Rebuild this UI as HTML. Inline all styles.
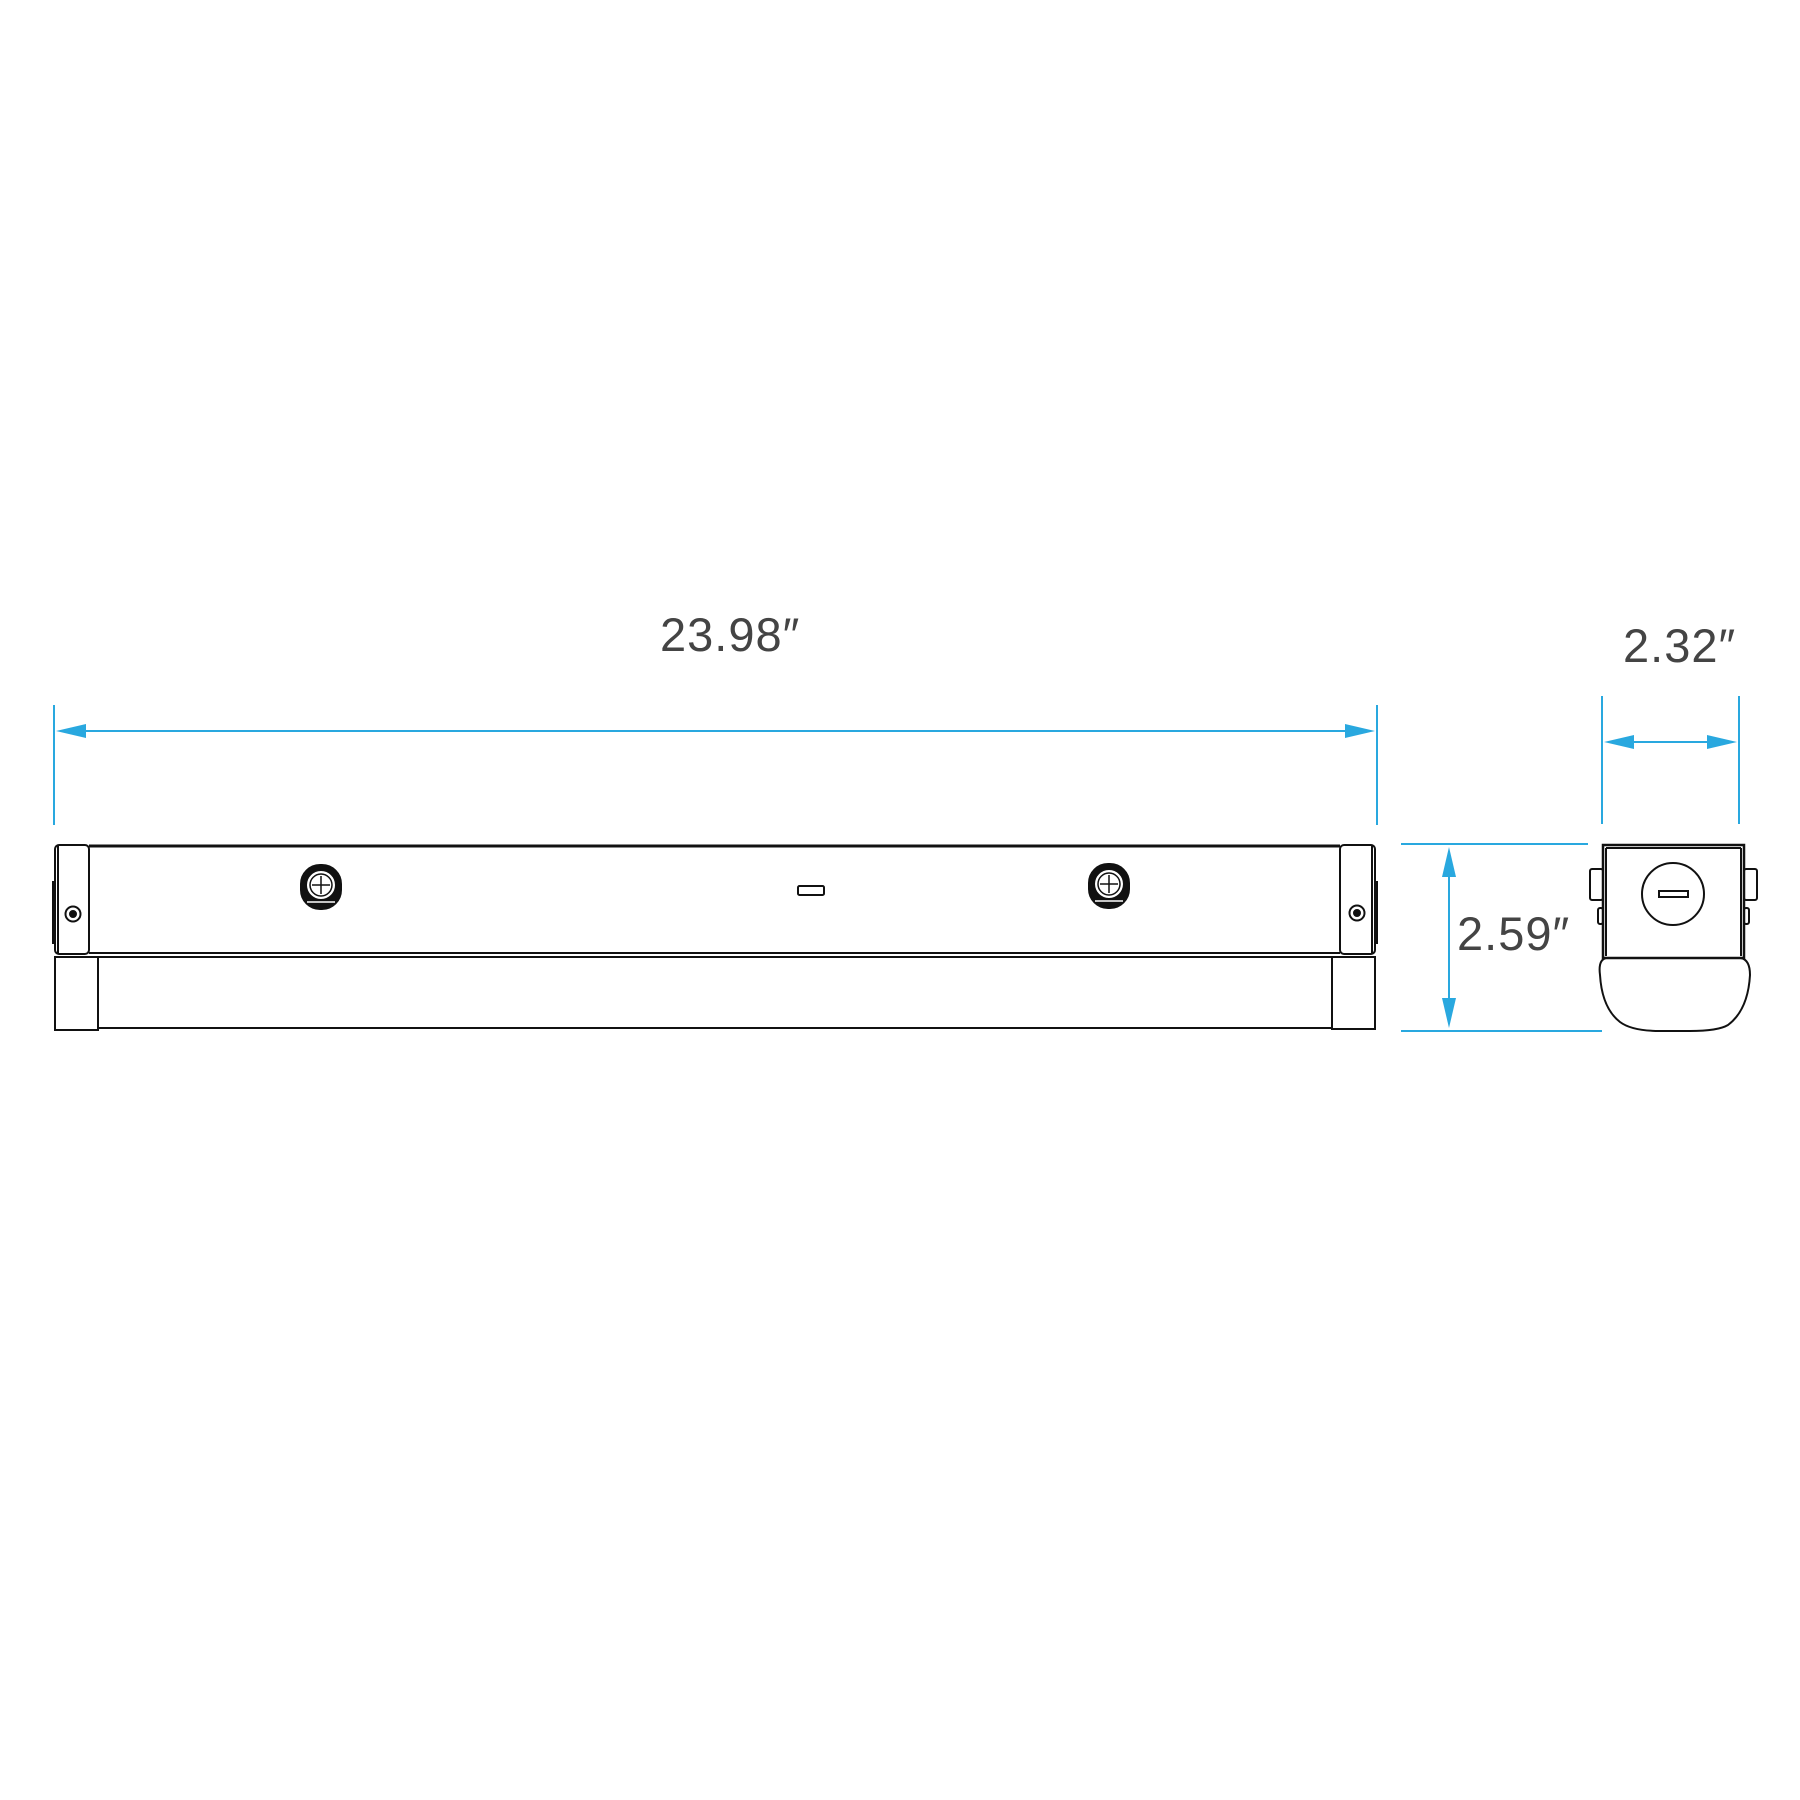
<!DOCTYPE html>
<html><head><meta charset="utf-8"><style>
html,body{margin:0;padding:0;background:#fff;}
svg{display:block}
text{font-family:"Liberation Sans",sans-serif;fill:#444;font-size:47px;letter-spacing:1px}
</style></head><body>
<svg width="1800" height="1800" viewBox="0 0 1800 1800" xmlns="http://www.w3.org/2000/svg">
<g stroke="#29a8df" stroke-width="2" fill="#29a8df">
  <line x1="54" y1="705" x2="54" y2="825"/>
  <line x1="1377" y1="705" x2="1377" y2="825"/>
  <line x1="80" y1="731" x2="1350" y2="731"/>
  <polygon points="56,731 86,724 86,738" stroke="none"/>
  <polygon points="1375,731 1345,724 1345,738" stroke="none"/>
  <line x1="1602" y1="696" x2="1602" y2="824"/>
  <line x1="1739" y1="696" x2="1739" y2="824"/>
  <line x1="1625" y1="742" x2="1716" y2="742"/>
  <polygon points="1604,742 1634,735 1634,749" stroke="none"/>
  <polygon points="1737,742 1707,735 1707,749" stroke="none"/>
  <line x1="1401" y1="844" x2="1588" y2="844"/>
  <line x1="1401" y1="1031" x2="1602" y2="1031"/>
  <line x1="1449" y1="870" x2="1449" y2="1005"/>
  <polygon points="1449,847 1442,877 1456,877" stroke="none"/>
  <polygon points="1449,1028 1442,998 1456,998" stroke="none"/>
</g>
<text x="660" y="651">23.98″</text>
<text x="1623" y="662">2.32″</text>
<text x="1457" y="950">2.59″</text>
<g stroke="#111" fill="none" stroke-width="2">
  <line x1="89" y1="846" x2="1340" y2="846" stroke-width="3"/>
  <line x1="89" y1="953" x2="1340" y2="953"/>
  <line x1="56" y1="957" x2="1375" y2="957"/>
  <rect x="55" y="845" width="34" height="109" rx="4"/>
  <line x1="58" y1="846" x2="58" y2="954"/>
  <rect x="1340" y="845" width="35" height="109" rx="4"/>
  <line x1="1372" y1="846" x2="1372" y2="954"/>
  <rect x="52" y="881" width="3" height="63" fill="#111" stroke="none"/>
  <rect x="1375" y="881" width="3" height="63" fill="#111" stroke="none"/>
  <circle cx="73" cy="914" r="7.5"/><circle cx="73" cy="914" r="3" fill="#111"/>
  <circle cx="1357" cy="913" r="7.5"/><circle cx="1357" cy="913" r="3" fill="#111"/>
  <rect x="55" y="957" width="43" height="73"/>
  <rect x="1332" y="957" width="43" height="72"/>
  <line x1="98" y1="1028" x2="1332" y2="1028"/>
  <g transform="translate(321,887)">
    <rect x="-20" y="-22" width="40" height="44" rx="19" fill="#111"/>
    <circle cy="-2" r="15" fill="#fff" stroke="#111"/>
    <circle cy="-2" r="11" stroke="#111" stroke-width="1.5"/>
    <line x1="-9" y1="-2" x2="9" y2="-2" stroke-width="1.5"/><line x1="0" y1="-11" x2="0" y2="7" stroke-width="1.5"/>
    <line x1="-14" y1="15" x2="14" y2="15" stroke="#fff" stroke-width="1.5"/>
  </g>
  <g transform="translate(1109,886)">
    <rect x="-20" y="-22" width="40" height="44" rx="19" fill="#111"/>
    <circle cy="-2" r="15" fill="#fff" stroke="#111"/>
    <circle cy="-2" r="11" stroke="#111" stroke-width="1.5"/>
    <line x1="-9" y1="-2" x2="9" y2="-2" stroke-width="1.5"/><line x1="0" y1="-11" x2="0" y2="7" stroke-width="1.5"/>
    <line x1="-14" y1="15" x2="14" y2="15" stroke="#fff" stroke-width="1.5"/>
  </g>
  <rect x="798" y="886" width="26" height="9" rx="1.5"/>
  <rect x="1603" y="845" width="141" height="113" stroke-width="2.5"/>
  <line x1="1606" y1="848" x2="1741" y2="848"/>
  <line x1="1606" y1="848" x2="1606" y2="956"/>
  <line x1="1741" y1="848" x2="1741" y2="956"/>
  <rect x="1590" y="869" width="13" height="31" rx="2"/>
  <rect x="1744" y="869" width="13" height="31" rx="2"/>
  <rect x="1598" y="908" width="5" height="16" rx="2"/>
  <rect x="1744" y="908" width="5" height="16" rx="2"/>
  <circle cx="1673" cy="894" r="31"/>
  <rect x="1659" y="891" width="29" height="6"/>
  <path d="M1606,958 L1741,958 Q1750,960 1750,975 Q1748,1010 1728,1025 Q1718,1031 1690,1031 L1660,1031 Q1632,1031 1620,1022 Q1602,1008 1600,975 Q1598,960 1606,958 Z"/>
</g>
</svg>
</body></html>
